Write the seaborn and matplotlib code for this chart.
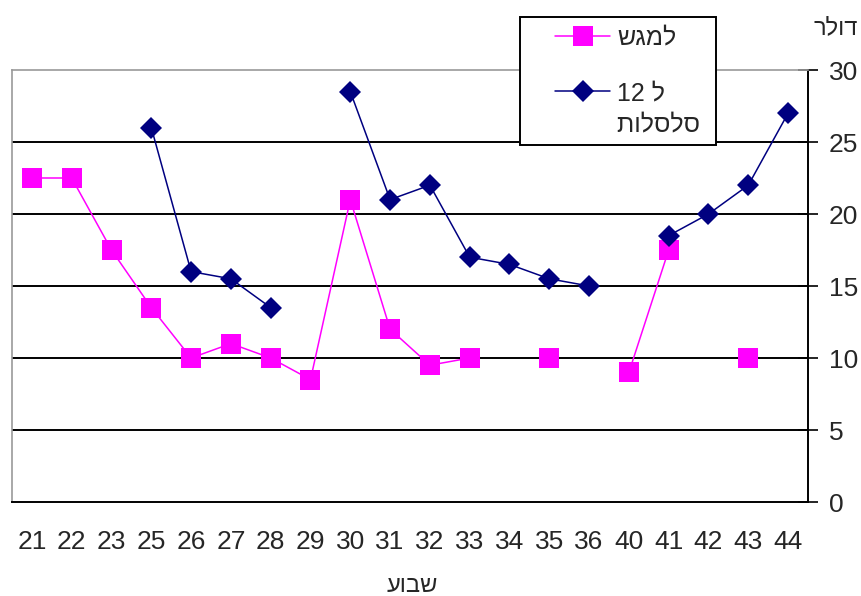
import numpy as np
import pandas as pd
import matplotlib.pyplot as plt
import seaborn as sns
from matplotlib.lines import Line2D
from matplotlib.legend_handler import HandlerLine2D
from matplotlib.ticker import FixedLocator, NullFormatter

sns.set_style('white')
plt.rcParams['font.family'] = ['Liberation Sans Narrow', 'Liberation Sans', 'DejaVu Sans']

# data (x = week, y = dollars)
weeks = ['21', '22', '23', '25', '26', '27', '28', '29', '30', '31',
         '32', '33', '34', '35', '36', '40', '41', '42', '43', '44']
tray = [22.5, 22.5, 17.5, 13.5, 10, 11, 10, 8.5, 21, 12,
        9.5, 10, np.nan, 10, np.nan, 9, 17.5, np.nan, 10, np.nan]
baskets = [np.nan, np.nan, np.nan, 26, 16, 15.5, 13.5, np.nan, 28.5, 21,
           22, 17, 16.5, 15.5, 15, np.nan, 18.5, 20, 22, 27]

# hebrew strings, written in visual (left-to-right) glyph order since
# matplotlib has no bidi support
tray_label = '\u05e9\u05d2\u05de\u05dc'                      # "lamagash"
basket_label = '12 \u05dc\n\u05ea\u05d5\u05dc\u05e1\u05dc\u05e1 '  # "le 12 salsalot"
y_title = '\u05e8\u05dc\u05d5\u05d3'                          # "dollar"
x_title = '\u05e2\u05d5\u05d1\u05e9'                          # "shavua"

MAGENTA = '#ff00ff'
NAVY = '#000080'


def segments(values):
    s = pd.Series(values, dtype=float)
    df = pd.DataFrame({'pos': np.arange(len(s)), 'val': s})
    df['seg'] = s.isna().cumsum()
    return df.dropna()


tray_df = segments(tray)
basket_df = segments(baskets)

fig = plt.figure(figsize=(8.62, 5.96), dpi=100)
ax = fig.add_axes([12 / 862, 94 / 596, 796 / 862, 432 / 596])

for yv in [5, 10, 15, 20, 25]:
    ax.axhline(yv, color='black', lw=1.4, zorder=1)

sns.lineplot(data=tray_df, x='pos', y='val', units='seg', estimator=None,
             color=MAGENTA, lw=1.1, marker='s', markersize=14, markeredgewidth=0,
             legend=False, ax=ax, zorder=3)
sns.lineplot(data=basket_df, x='pos', y='val', units='seg', estimator=None,
             color=NAVY, lw=1.1, marker='D', markersize=11, markeredgewidth=0,
             legend=False, ax=ax, zorder=4)

ax.set_xlim(-0.5, len(weeks) - 0.5)
ax.set_ylim(0, 30)
ax.set_xlabel('')
ax.set_ylabel('')

# x ticks: marks on category boundaries, labels at centres
ax.xaxis.set_major_locator(FixedLocator(np.arange(-0.5, len(weeks), 1.0)))
ax.xaxis.set_major_formatter(NullFormatter())
ax.xaxis.set_minor_locator(FixedLocator(np.arange(len(weeks))))
ax.set_xticklabels(weeks, minor=True)
ax.tick_params(axis='x', which='major', direction='out', length=8, width=1, color='black')
ax.tick_params(axis='x', which='minor', length=0, pad=20, labelsize=19)

ax.yaxis.tick_right()
ax.set_yticks([0, 5, 10, 15, 20, 25, 30])
ax.tick_params(axis='y', direction='inout', length=14, width=1.2, color='black',
               pad=8, labelsize=19)

for side in ['left', 'top']:
    ax.spines[side].set_color('#999999')
    ax.spines[side].set_linewidth(1.2)
ax.spines['right'].set_color('black')
ax.spines['right'].set_linewidth(1.4)
ax.spines['bottom'].set_color('black')
ax.spines['bottom'].set_linewidth(1.4)

handles = [
    Line2D([], [], color=MAGENTA, lw=1.1, marker='s', markersize=14, markeredgewidth=0),
    Line2D([], [], color=NAVY, lw=1.1, marker='D', markersize=11, markeredgewidth=0),
]
leg = fig.legend(handles, [tray_label, basket_label], loc='upper left',
                 bbox_to_anchor=(520 / 862, 1 - 17 / 596), fontsize=18,
                 frameon=True, fancybox=False, framealpha=1, edgecolor='black',
                 borderpad=0.34, handlelength=3.26, labelspacing=1.29,
                 handletextpad=0.28, borderaxespad=0,
                 handler_map={Line2D: HandlerLine2D(xpad=1.06)})
leg.get_frame().set_linewidth(1.4)
leg.set_zorder(10)
for t in leg.get_texts():
    t.set_linespacing(1.34)
# put the second marker next to the first line of its two-line label
rows = leg._legend_handle_box.get_children()[0].get_children()
rows[1].align = 'top'

fig.text(836 / 862, 1 - 28 / 596, y_title, ha='center', va='center', fontsize=17)
fig.text(412 / 862, 1 - 586 / 596, x_title, ha='center', va='center', fontsize=17)

fig.savefig('out.png', dpi=100)
